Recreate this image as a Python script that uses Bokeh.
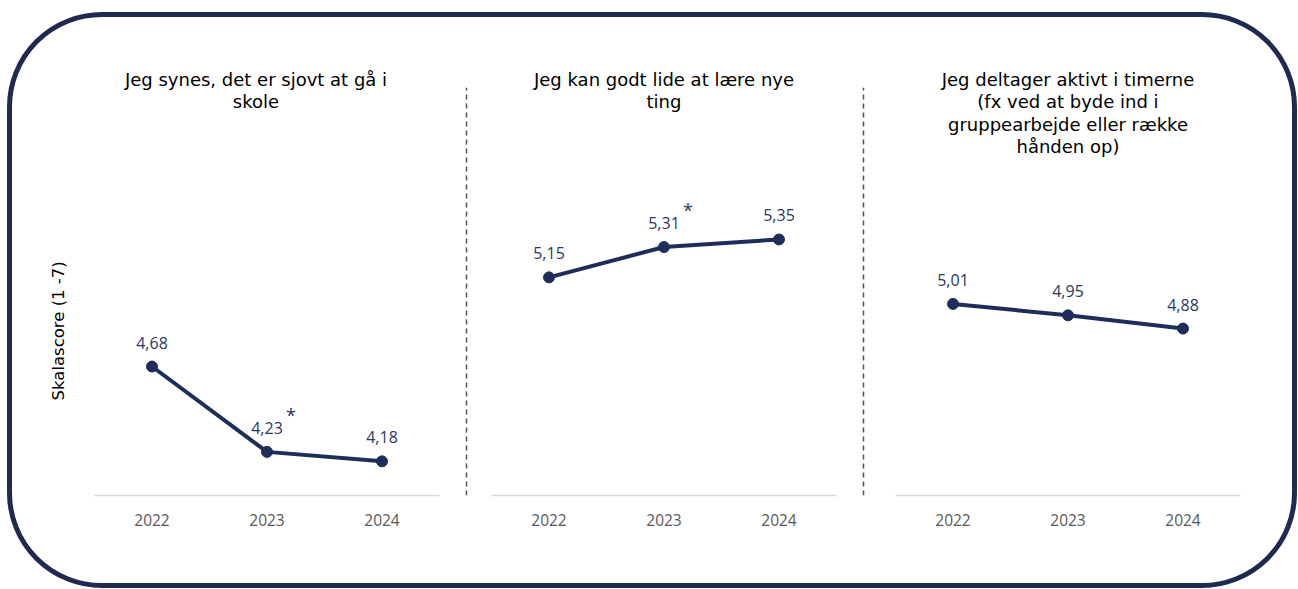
import math
from bokeh.plotting import figure
from bokeh.models import Range1d, FactorRange, ColumnDataSource
from bokeh.layouts import row
from bokeh.core.properties import value
from bokeh.embed import file_html
from bokeh.resources import INLINE

# ---------------- data ----------------
years = ["2022", "2023", "2024"]
title_1 = "Jeg synes, det er sjovt at gå i\nskole"
title_2 = "Jeg kan godt lide at lære nye\nting"
title_3 = "Jeg deltager aktivt i timerne\n(fx ved at byde ind i\ngruppearbejde eller række\nhånden op)"
scores_1 = [4.68, 4.23, 4.18]
scores_2 = [5.15, 5.31, 5.35]
scores_3 = [5.01, 4.95, 4.88]
stars_1 = ["", "*", ""]
stars_2 = ["", "*", ""]
stars_3 = ["", "", ""]
y_label = "Skalascore (1 -7)"

# ---------------- style ----------------
NAVY = "#1F2D5A"
LABEL_C = "#2B3766"
BORDER_C = "#1E2A4F"
SEP_C = "#44546A"
Y_MIN, Y_MAX = 4.0, 6.52
TITLE_TOP = 6.25
SEP_TOP = 6.15
YLAB_Y = 4.868
H = 566
FRAME_W = 345
BOTTOM = 88


def fmt(v):
    return f"{v:.2f}".replace(".", ",")


def base_fig(x_range, width, left, right):
    p = figure(x_range=x_range, y_range=Range1d(Y_MIN, Y_MAX),
               width=width, height=H, title=None,
               y_axis_location=None, toolbar_location=None,
               output_backend="svg", min_border_left=left,
               min_border_right=right, min_border_top=0,
               min_border_bottom=BOTTOM)
    p.outline_line_color = None
    p.xgrid.visible = False
    p.ygrid.visible = False
    p.background_fill_color = None
    p.border_fill_color = None
    return p


def panel(title, scores, stars, left, right, title_dx=0):
    p = base_fig(FactorRange(*years), left + FRAME_W + right, left, right)
    ax = p.xaxis[0]
    ax.axis_line_color = "#D9D9D9"
    ax.axis_line_width = 1.5
    ax.major_tick_line_color = None
    ax.minor_tick_line_color = None
    ax.major_label_text_font = "Open Sans"
    ax.major_label_text_font_size = "15.5px"
    ax.major_label_text_color = "#595959"
    ax.major_label_standoff = 12

    src = ColumnDataSource(dict(x=years, y=scores,
                                lab=[fmt(v) for v in scores], star=stars))
    p.line("x", "y", source=src, line_color=NAVY, line_width=4)
    p.scatter("x", "y", source=src, size=11, color=NAVY)
    p.text("x", "y", text="lab", source=src, text_align="center",
           text_baseline="middle", y_offset=-24,
           text_font=value("Open Sans"), text_font_size="16px",
           text_color=LABEL_C)
    p.text("x", "y", text="star", source=src, text_align="center",
           text_baseline="middle", x_offset=24, y_offset=-37,
           text_font=value("Open Sans"), text_font_size="18px",
           text_color=LABEL_C)
    p.text(x=[years[1]], y=[TITLE_TOP], text=[title], text_align="center",
           text_baseline="top", x_offset=title_dx,
           text_font=value("DejaVu Sans"), text_font_size="18px",
           text_color="black", text_line_height=1.07)
    return p


def separator():
    s = base_fig(Range1d(0, 1), 10, 0, 0)
    s.xaxis.visible = False
    s.segment(x0=[0.5], y0=[Y_MIN], x1=[0.5], y1=[SEP_TOP],
              line_color=SEP_C, line_width=1.5, line_dash="5 4")
    return s


def ylabel_fig():
    s = base_fig(Range1d(0, 1), 70, 0, 0)
    s.xaxis.visible = False
    s.text(x=[0.657], y=[YLAB_Y], text=[y_label], angle=math.pi / 2,
           text_align="center", text_baseline="middle",
           text_font=value("DejaVu Sans"), text_font_size="16.5px",
           text_color="black")
    return s


f1 = panel(title_1, scores_1, stars_1, 12, 22, title_dx=-11)
f2 = panel(title_2, scores_2, stars_2, 20, 22)
f3 = panel(title_3, scores_3, stars_3, 27, 52)

layout = row(ylabel_fig(), f1, separator(), f2, separator(), f3,
             styles={"border": f"5px solid {BORDER_C}",
                     "border-radius": "95px",
                     "margin-top": "12px",
                     "margin-left": "7px",
                     "background-color": "white"})

open("out.html", "w").write(file_html(layout, INLINE))
